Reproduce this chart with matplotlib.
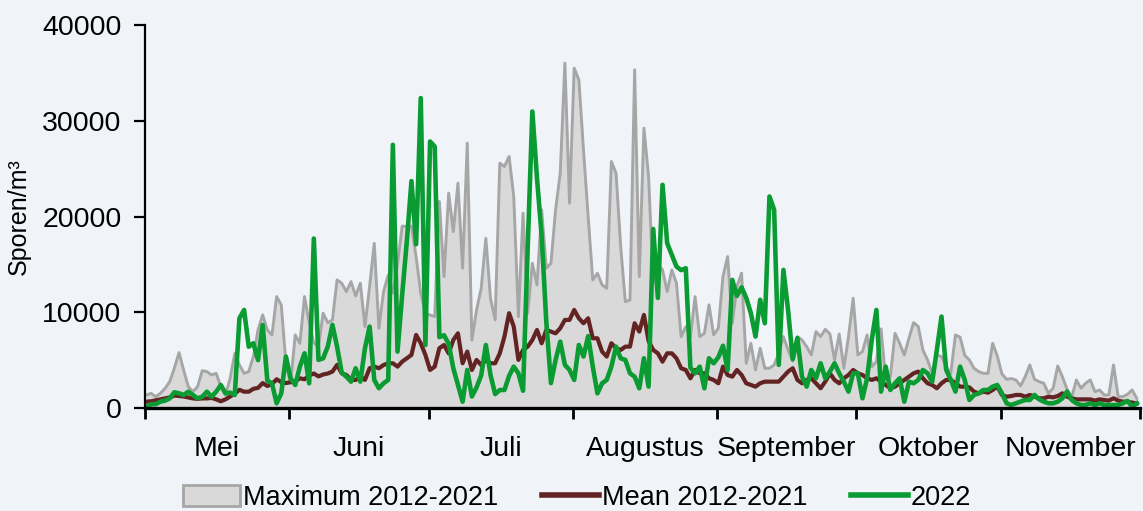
import numpy as np
import matplotlib
matplotlib.use("Agg")
import matplotlib.pyplot as plt
from matplotlib.patches import Patch
from matplotlib.lines import Line2D

plt.rcParams['font.family'] = ['Liberation Sans', 'DejaVu Sans']

months = ['Mei', 'Juni', 'Juli', 'Augustus', 'September', 'Oktober', 'November']
month_days = [31, 30, 31, 31, 30, 31, 30]

# daily values, 1 May .. 30 November
max_2012_2021 = [
    1360, 1530, 1180, 1530, 2050, 2750, 4150, 5780, 3970, 2230,
    1700, 2230, 3900, 3800, 3450, 3620, 2230, 1360, 3100, 5700,
    4500, 3620, 3800, 5370, 8150, 9720, 8150, 7630, 11640, 10770,
    4670, 2580, 7630, 6760, 11640, 8900, 6800, 6400, 9900, 8900,
    9200, 13380, 13030, 12160, 13200, 11700, 13030, 8500, 12700, 17200,
    8330, 12160, 13900, 12000, 15000, 19000, 18950, 19000, 15800, 12000,
    9900, 9700, 9550, 21570, 13730, 22440, 18430, 23480, 14600, 27660,
    7100, 10240, 12500, 17730, 11460, 9200, 25570, 25220, 26270, 22090,
    9550, 20350, 9900, 15120, 12860, 20700, 14600, 15120, 20700, 24530,
    36020, 21390, 35500, 34280, 26970, 20000, 13380, 14080, 12860, 12500,
    25750, 24530, 16860, 11110, 11290, 35330, 13730, 29230, 24180, 13000,
    15000, 14420, 12160, 14420, 13030, 7450, 8500, 7450, 11630, 7450,
    7800, 10770, 7630, 8330, 13730, 15820, 8850, 12700, 14080, 4670,
    6760, 3970, 6240, 4150, 4150, 4500, 5700, 7450, 6060, 4880,
    7450, 7100, 6410, 5540, 7980, 7460, 8220, 7730, 5020, 7730,
    4150, 7460, 11460, 5540, 5890, 7630, 4320, 4840, 8260, 2930,
    3270, 7800, 6760, 5540, 7280, 8920, 8500, 6060, 5020, 3620,
    5540, 5370, 4320, 3620, 7630, 7400, 5500, 5020, 4150, 3800,
    3620, 3620, 6760, 5430, 3550, 3000, 3070, 2930, 2300, 3270,
    4500, 3000, 2750, 2580, 1530, 2060, 4390, 3270, 1950, 1100,
    2930, 2060, 2580, 2930, 1710, 1880, 1360, 1360, 4500, 1180,
    1180, 1430, 1880, 1000,
]

mean_2012_2021 = [
    660, 700, 800, 900, 1000, 1100, 1300, 1250, 1200, 1100,
    1000, 950, 1000, 1000, 1050, 900, 700, 900, 1200, 1500,
    1900, 1700, 1700, 2000, 2100, 2600, 2300, 2500, 3000, 2700,
    2600, 2700, 2800, 3100, 3000, 3400, 3600, 3300, 3500, 3600,
    3800, 4500, 3620, 3450, 2930, 2930, 3270, 2930, 4150, 4320,
    4150, 4490, 4670, 4670, 4320, 4840, 5190, 5540, 7630, 6760,
    5540, 3970, 4320, 6240, 6580, 5710, 7100, 7800, 4670, 5890,
    3970, 5020, 4490, 5020, 4670, 4670, 5710, 7460, 9900, 8500,
    5020, 6060, 6410, 7100, 8150, 6760, 8150, 7980, 7800, 8330,
    9200, 9200, 10240, 9370, 8850, 9370, 7280, 7280, 5890, 5370,
    6760, 6240, 6060, 6410, 6410, 8850, 7980, 9720, 7000, 6060,
    5710, 4840, 5710, 5710, 5190, 4150, 3970, 3100, 3970, 3620,
    3620, 3100, 2930, 2580, 4320, 3450, 3270, 3970, 3450, 2580,
    2400, 2230, 2580, 2750, 2750, 2750, 2750, 3270, 3800, 4150,
    2930, 2580, 2930, 3100, 2580, 2060, 2750, 3620, 2930, 2580,
    3100, 3450, 3970, 3620, 3450, 3100, 2930, 3100, 2750, 2400,
    2060, 2230, 2580, 2930, 3270, 3620, 3800, 3100, 2580, 2400,
    2060, 2580, 2930, 2930, 2580, 2230, 2230, 2150, 1710, 1530,
    1710, 1600, 1880, 2230, 1360, 1180, 1250, 1360, 1360, 1180,
    1360, 1180, 1010, 1010, 1180, 1110, 1250, 1530, 1180, 1010,
    900, 900, 900, 900, 770, 900, 840, 770, 1010, 770,
    660, 660, 560, 490,
]

y2022 = [
    100, 400, 400, 660, 770, 1000, 1640, 1530, 1360, 1700,
    1360, 1000, 1180, 1700, 1180, 1700, 2400, 1530, 1600, 1360,
    9370, 10240, 6400, 6760, 5000, 8670, 2860, 2580, 490, 1530,
    5370, 3100, 2400, 4320, 5710, 2580, 17700, 5020, 5190, 6410,
    8680, 6410, 3700, 3270, 2750, 4150, 2750, 6240, 8500, 2930,
    2060, 2580, 2930, 27490, 5890, 11800, 17400, 23700, 17100, 32370,
    6580, 27840, 27310, 7400, 7600, 6700, 4150, 2400, 660, 3970,
    1200, 2150, 3400, 6580, 3450, 1450, 1880, 1880, 3350, 4320,
    3620, 1800, 16700, 30970, 24000, 18000, 9000, 2600, 5020, 6930,
    4500, 3970, 2930, 6580, 5370, 7500, 4320, 1530, 2580, 2930,
    4320, 6410, 5190, 5020, 3620, 3270, 2060, 5190, 2230, 18700,
    11500, 23310, 17210, 16000, 14770, 14400, 14600, 4200, 3620, 4320,
    2060, 5190, 4670, 5300, 6500, 3970, 13380, 11700, 12600, 11500,
    9900, 7460, 11300, 8850, 22090, 20700, 4500, 14420, 10240, 5100,
    7300, 3270, 2230, 3970, 3100, 4670, 3100, 3800, 4670, 3620,
    2750, 1710, 3620, 3620, 1010, 3100, 7100, 10240, 1710, 4320,
    1880, 2580, 3100, 660, 2750, 2580, 2930, 3970, 3620, 2750,
    6060, 9550, 4000, 2930, 1710, 4320, 2930, 840, 1360, 1530,
    1880, 1880, 2230, 2400, 1530, 490, 310, 490, 660, 840,
    840, 1360, 900, 660, 490, 490, 660, 1010, 1710, 840,
    490, 310, 310, 490, 310, 490, 310, 310, 310, 310,
    490, 730, 140, 490,
]

bg = '#F0F4F9'
c_fill = '#D9D9D9'
c_max = '#A6A6A6'
c_mean = '#632323'
c_2022 = '#0A9B32'

fig = plt.figure(figsize=(11.43, 5.11), dpi=100)
fig.patch.set_facecolor(bg)
ax = fig.add_axes([0.1269, 0.2016, 0.8705, 0.7494])
ax.set_facecolor(bg)

x = np.arange(len(max_2012_2021))
ax.fill_between(x, 0, max_2012_2021, color=c_fill, lw=0, zorder=1)
ax.plot(x, max_2012_2021, color=c_max, lw=2.1, zorder=2)
ax.plot(x, mean_2012_2021, color=c_mean, lw=3.0, zorder=3)
ax.plot(x, y2022, color=c_2022, lw=3.3, zorder=4)

start = -0.3
bounds = start + np.concatenate([[0], np.cumsum(month_days)])
ax.set_xlim(bounds[0], bounds[-1])
ax.set_ylim(0, 40000)
ax.set_yticks(np.arange(0, 40001, 10000))
ax.set_yticklabels([str(v) for v in range(0, 40001, 10000)])

ax.set_xticks(bounds)
ax.set_xticklabels([])
mids = (bounds[:-1] + bounds[1:]) / 2
ax.set_xticks(mids, minor=True)
ax.set_xticklabels(months, minor=True)

for s in ['top', 'right']:
    ax.spines[s].set_visible(False)
ax.spines['left'].set_linewidth(1.6)
ax.spines['bottom'].set_linewidth(2.4)
ax.spines['left'].set_zorder(6)
ax.spines['bottom'].set_zorder(6)

ax.tick_params(axis='x', which='major', length=8, width=2.0, direction='out', color='black')
ax.tick_params(axis='x', which='minor', length=0, pad=20, labelsize=20.5, labelcolor='black')
ax.tick_params(axis='y', which='major', length=8, width=1.6, direction='out', pad=9,
               labelsize=20.5, labelcolor='black')

ax.set_ylabel('Sporen/m³', fontsize=18, labelpad=8)

handles = [
    Patch(facecolor=c_fill, edgecolor=c_max, linewidth=2),
    Line2D([0], [0], color=c_mean, lw=4),
    Line2D([0], [0], color=c_2022, lw=4),
]
labels = ['Maximum 2012-2021', 'Mean 2012-2021', '2022']
fig.legend(handles, labels, loc='center', bbox_to_anchor=(0.505, 0.025), ncol=3,
           frameon=False, fontsize=19.5, handlelength=2.1, handletextpad=0.12,
           columnspacing=1.6, handleheight=0.8)

fig.savefig('out.png', dpi=100, facecolor=bg)
